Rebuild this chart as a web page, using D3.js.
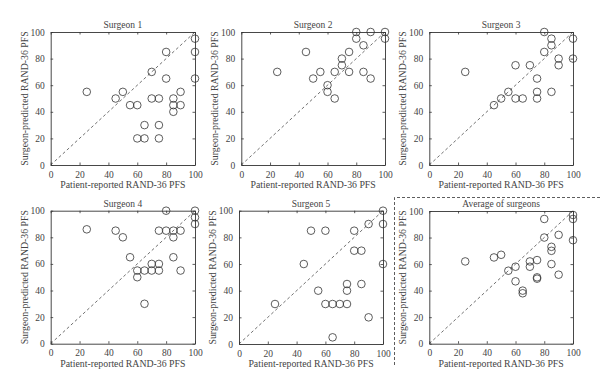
<!DOCTYPE html>
<html>
<head>
<meta charset="utf-8">
<script src="https://cdn.jsdelivr.net/npm/d3@7/dist/d3.min.js"></script>
<style>
  body { margin: 0; background: #fff; }
  svg { display: block; }
  text { font-family: "Liberation Serif", "DejaVu Serif", serif; font-weight: normal; fill: #444; }
</style>
</head>
<body>
<div id="chart"></div>
<script>
// data: [patient-reported, surgeon-predicted]
var surgeon1 = [[25,55],[45,50],[50,55],[55,45],[60,45],[60,20],[65,30],[65,20],[70,70],[70,50],
  [75,50],[75,30],[75,20],[80,85],[80,65],[85,50],[85,45],[85,40],[90,55],[90,45],[100,95],[100,85],[100,65]];
var surgeon2 = [[25,70],[45,85],[50,65],[55,70],[60,60],[60,55],[65,70],[65,50],[70,80],[70,75],
  [75,85],[75,70],[80,100],[80,95],[85,90],[85,70],[90,100],[90,65],[100,100],[100,95]];
var surgeon3 = [[25,70],[45,45],[50,50],[55,55],[60,75],[60,50],[65,50],[70,75],[75,65],[75,55],
  [75,50],[80,100],[80,85],[85,95],[85,90],[85,55],[90,80],[90,75],[100,95],[100,80]];
var surgeon4 = [[25,86],[45,85],[50,80],[55,65],[60,55],[60,50],[65,55],[65,30],[70,60],[70,55],
  [75,85],[75,60],[75,55],[80,100],[80,85],[85,85],[85,80],[85,65],[90,85],[90,55],[100,100],[100,95],[100,90]];
var surgeon5 = [[25,30],[45,60],[50,85],[55,40],[60,85],[60,30],[65,30],[65,5],[70,30],[75,45],
  [75,40],[75,30],[80,85],[80,70],[85,70],[85,45],[90,90],[90,20],[100,100],[100,90],[100,60]];
var average = [[25,62],[45,65],[50,67],[55,55],[60,58],[60,47],[65,40],[65,38],[70,62],[70,58],
  [75,63],[75,50],[75,49],[80,94],[80,80],[85,73],[85,70],[85,60],[90,82],[90,52],[100,97],[100,94],[100,78]];

var titles = ["Surgeon 1", "Surgeon 2", "Surgeon 3", "Surgeon 4", "Surgeon 5", "Average of surgeons"];
var series = [surgeon1, surgeon2, surgeon3, surgeon4, surgeon5, average];
var tickValues = [0, 20, 40, 60, 80, 100];
var xLabel = "Patient-reported RAND-36 PFS";
var yLabel = "Surgeon-predicted RAND-36 PFS";

var width = 600, height = 392;

var svg = d3.select("#chart").append("svg")
    .attr("width", width)
    .attr("height", height);

// panel frames (left, top, right, bottom)
var frames = [
  [50.7, 32, 195, 165],
  [241.3, 32, 385, 165],
  [429.3, 32, 573, 165],
  [50.7, 210.7, 195, 343.7],
  [239, 210.7, 383, 344],
  [429.3, 211, 573, 343.7]
];

var ink = "#333", textInk = "#444";

series.forEach(function (data, i) {
  var f = frames[i];
  var w = f[2] - f[0], h = f[3] - f[1];

  var x = d3.scaleLinear().domain([0, 100]).range([0, w]);
  var y = d3.scaleLinear().domain([0, 100]).range([h, 0]);

  var g = svg.append("g")
      .attr("transform", "translate(" + f[0] + "," + f[1] + ")");

  // inward ticks on all four sides, labels on bottom/left
  var axB = g.append("g").attr("transform", "translate(0," + h + ")")
      .call(d3.axisBottom(x).tickValues(tickValues).tickSizeInner(-2.5).tickSizeOuter(0).tickPadding(6));
  var axL = g.append("g")
      .call(d3.axisLeft(y).tickValues(tickValues).tickSizeInner(-2.5).tickSizeOuter(0).tickPadding(6));
  var axT = g.append("g")
      .call(d3.axisTop(x).tickValues(tickValues).tickSizeInner(-2.5).tickSizeOuter(0).tickFormat(""));
  var axR = g.append("g").attr("transform", "translate(" + w + ",0)")
      .call(d3.axisRight(y).tickValues(tickValues).tickSizeInner(-2.5).tickSizeOuter(0).tickFormat(""));

  [axB, axL, axT, axR].forEach(function (a) {
    a.selectAll("path.domain").attr("stroke", ink).attr("stroke-width", 0.9);
    a.selectAll(".tick line").attr("stroke", ink).attr("stroke-width", 0.8);
    a.selectAll(".tick text")
        .style("font-family", "'Liberation Serif', serif")
        .style("font-size", "9.5px")
        .attr("fill", textInk);
  });

  // diagonal reference line
  g.append("line")
      .attr("x1", x(0)).attr("y1", y(0))
      .attr("x2", x(100)).attr("y2", y(100))
      .attr("stroke", ink)
      .attr("stroke-width", 0.7)
      .attr("stroke-dasharray", "3,2.5");

  g.selectAll("circle.pt")
      .data(data)
      .enter().append("circle")
      .attr("class", "pt")
      .attr("cx", function (d) { return x(d[0]); })
      .attr("cy", function (d) { return y(d[1]); })
      .attr("r", 3.8)
      .attr("fill", "none")
      .attr("stroke", ink)
      .attr("stroke-width", 0.8);

  g.append("text")
      .attr("x", w / 2)
      .attr("y", -4)
      .attr("text-anchor", "middle")
      .style("font-size", "9.5px")
      .text(titles[i]);

  g.append("text")
      .attr("x", w / 2)
      .attr("y", h + 23)
      .attr("text-anchor", "middle")
      .style("font-size", "9.8px")
      .text(xLabel);

  g.append("text")
      .attr("transform", "translate(" + (-23) + "," + (h / 2) + ") rotate(-90)")
      .attr("text-anchor", "middle")
      .style("font-size", "9.8px")
      .text(yLabel);
});

// dashed frame around the average panel
svg.append("path")
    .attr("d", "M394.5,365V197.5H600")
    .attr("fill", "none")
    .attr("stroke", ink)
    .attr("stroke-width", 0.8)
    .attr("stroke-dasharray", "3,2");
</script>
</body>
</html>
